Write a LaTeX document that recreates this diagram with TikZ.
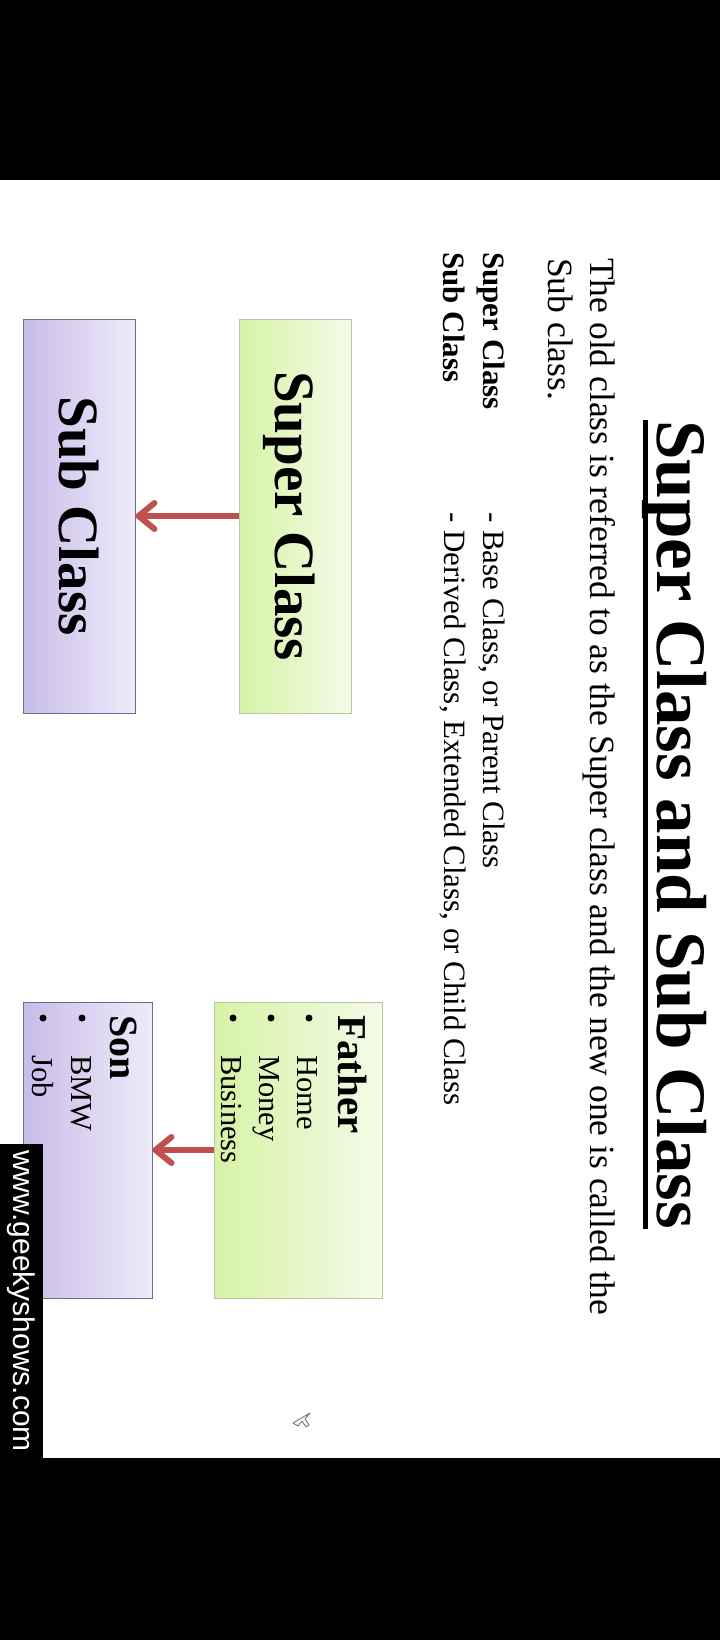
\documentclass[tikz,border=0pt]{standalone}
\usepackage{fontspec}
\setmainfont{Liberation Serif}
\setsansfont{Liberation Sans}
\usetikzlibrary{arrows.meta}
\definecolor{arrowred}{HTML}{C0504D}
\definecolor{greendark}{HTML}{D6F3A6}
\definecolor{greenlight}{HTML}{F4FBE8}
\definecolor{greenedge}{HTML}{B9C7A2}
\definecolor{purpledark}{HTML}{C8BCE8}
\definecolor{purplelight}{HTML}{EFEBFA}
\definecolor{purpleedge}{HTML}{6C6C8C}
\begin{document}
\begin{tikzpicture}[x=1pt,y=-1pt,
    txt/.style={rotate=-90,anchor=base west,inner sep=0pt},
    greenbox/.style={rotate=-90,draw=greenedge,line width=1pt,left color=greendark,right color=greenlight,inner sep=0pt,text depth=0pt},
    purplebox/.style={rotate=-90,draw=purpleedge,line width=1pt,left color=purpledark,right color=purplelight,inner sep=0pt,text depth=0pt},
    inherit/.style={draw=arrowred,line width=6pt,-{Straight Barb[length=16pt,width=26pt,round]}},
    bullet/.style={fill=black}]
    \useasboundingbox (0,0) rectangle (720,1640);
    \fill[black] (0,0) rectangle (720,180);
    \fill[black] (0,1458) rectangle (720,1640);
    % heading and text
    \node[txt,font=\fontsize{71}{71}\selectfont\bfseries] (heading) at (657,420) {Super Class and Sub Class};
    \draw[line width=5pt] ([xshift=-12pt]heading.base west) -- ([xshift=-12pt]heading.base east);
    \node[txt,font=\fontsize{35.5}{42}\selectfont] (lineone) at (590,258) {The old class is referred to as the Super class and the new one is called the};
    \node[txt,font=\fontsize{35.5}{42}\selectfont] (linetwo) at (548,258) {Sub class.};
    \node[txt,font=\fontsize{31}{38}\selectfont\bfseries] (superlabel) at (483,252) {Super Class};
    \node[txt,font=\fontsize{31}{38}\selectfont\bfseries] (sublabel) at (443,252) {Sub Class};
    \node[txt,font=\fontsize{31}{38}\selectfont] (superdef) at (483,512) {- Base Class, or Parent Class};
    \node[txt,font=\fontsize{31}{38}\selectfont] (subdef) at (444,512) {- Derived Class, Extended Class, or Child Class};
    % first pair
    \node[greenbox,minimum width=394pt,minimum height=112pt,font=\fontsize{57}{57}\selectfont\bfseries] (superbox) at (295,516) {Super Class};
    \node[purplebox,minimum width=394pt,minimum height=112pt,font=\fontsize{57}{57}\selectfont\bfseries] (subbox) at (79,516) {Sub Class};
    \draw[inherit] (superbox.south) -- (subbox.north);
    % second pair
    \node[greenbox,minimum width=296pt,minimum height=168pt] (fatherbox) at (298,1150) {};
    \node[purplebox,minimum width=296pt,minimum height=129pt] (sonbox) at (87.5,1150) {};
    \draw[inherit] (fatherbox.south) -- (sonbox.north);
    \node[txt,font=\fontsize{41}{41}\selectfont\bfseries] (fathertitle) at (338,1015) {Father};
    \node[txt,font=\fontsize{30.5}{38}\selectfont] (itemhome) at (297,1055) {Home};
    \node[txt,font=\fontsize{30.5}{38}\selectfont] (itemmoney) at (259,1055) {Money};
    \node[txt,font=\fontsize{30.5}{38}\selectfont] (itembusiness) at (221,1055) {Business};
    \fill[bullet] (309,1018) circle (3.5pt);
    \fill[bullet] (271,1018) circle (3.5pt);
    \fill[bullet] (233,1018) circle (3.5pt);
    \node[txt,font=\fontsize{40}{40}\selectfont\bfseries] (sontitle) at (110,1015) {Son};
    \node[txt,font=\fontsize{30.5}{38}\selectfont] (itembmw) at (71,1055) {BMW};
    \node[txt,font=\fontsize{30.5}{38}\selectfont] (itemjob) at (32,1055) {Job};
    \fill[bullet] (82,1018) circle (3.5pt);
    \fill[bullet] (43,1018) circle (3.5pt);
    % watermark
    \fill[black] (0,1144) rectangle (43,1458);
    \node[txt,font=\fontsize{30}{30}\selectfont\sffamily,text=white] (site) at (13,1150) {www.geekyshows.com};
    % pointer
    \draw[gray,line width=1pt,line join=round] (293,1423) -- (310,1413) -- (305,1419) -- (309,1425) -- (306,1427) -- (302,1421) -- (298,1426) -- cycle;
\end{tikzpicture}
\end{document}
